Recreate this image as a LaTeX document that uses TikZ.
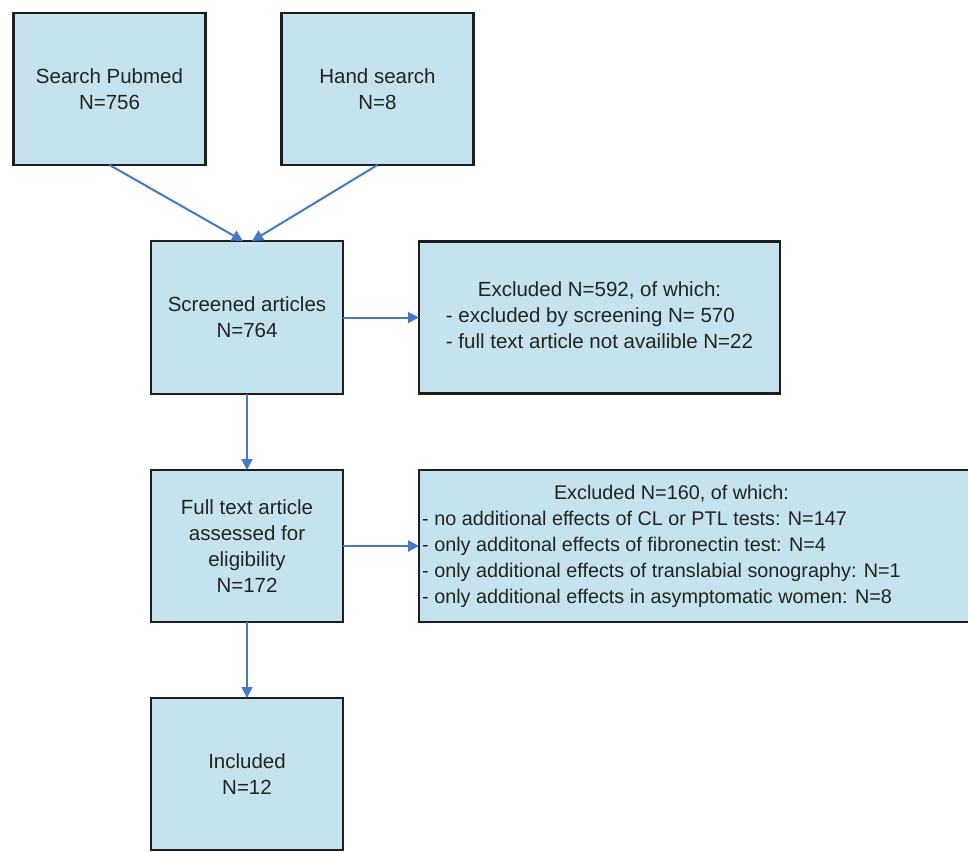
\documentclass[tikz,border=0pt]{standalone}
\usepackage{fontspec}
\setmainfont{Liberation Sans}
\usepackage{xcolor}
\usepackage{tikz}
\usetikzlibrary{arrows.meta, positioning}

\definecolor{boxfill}{RGB}{196,227,239}
\definecolor{boxline}{RGB}{30,30,30}
\definecolor{boxtext}{RGB}{35,35,35}
\definecolor{arrowblue}{RGB}{70,120,200}

\begin{document}
\begin{tikzpicture}[
    x=1pt, y=-1pt,
    node distance=76pt,
    every node/.style={font=\fontsize{20.5}{26}\selectfont, text=boxtext},
    box/.style={rectangle, draw=boxline, fill=boxfill, line width=2.4pt, minimum width=192pt, minimum height=152pt, inner sep=0pt, outer sep=0pt, align=center},
    arrow/.style={-{Triangle[length=11pt, width=11pt]}, line width=2pt, draw=arrowblue}
]
\fill[white] (0,0) rectangle (968,851);
\useasboundingbox (0,0) rectangle (968,851);
\clip (0,0) rectangle (968,851);

\node[box] (pubmed) at (109.5,89) {Search Pubmed\\N=756};
\node[box, right=of pubmed] (hand) {Hand search\\N=8};
\node[box, minimum height=153pt] (screened) at (247,317.5) {Screened articles\\N=764};
\node[box, right=of screened, minimum width=361pt] (excl1) {\begin{tabular}{@{}l@{}}
    \multicolumn{1}{@{}c@{}}{Excluded N=592, of which:}\\
    - excluded by screening N= 570\\
    - full text article not availible N=22
  \end{tabular}};
\node[box, below=of screened] (fulltext) {Full text article\\assessed for\\eligibility\\N=172};
\node[box, right=of fulltext, minimum width=600pt] (excl2) {};
\node[anchor=west, inner sep=0pt, font=\fontsize{19.8}{26}\selectfont] (excl2txt) at ([xshift=3pt]excl2.west) {\begin{tabular}{@{}l@{}}
    \multicolumn{1}{@{}c@{}}{\hspace{20pt}Excluded N=160, of which:}\\
    - no additional effects of CL or PTL tests: N=147\\
    - only additonal effects of fibronectin test: N=4\\
    - only additional effects of translabial sonography: N=1\\
    - only additional effects in asymptomatic women: N=8
  \end{tabular}};
\node[box, below=of fulltext] (included) {Included\\N=12};

\draw[arrow] (pubmed.south) -- ([xshift=-4pt]screened.north);
\draw[arrow] (hand.south) -- ([xshift=5pt]screened.north);
\draw[arrow] (screened) -- (excl1);
\draw[arrow] (screened) -- (fulltext);
\draw[arrow] (fulltext) -- (excl2);
\draw[arrow] (fulltext) -- (included);

\end{tikzpicture}
\end{document}
